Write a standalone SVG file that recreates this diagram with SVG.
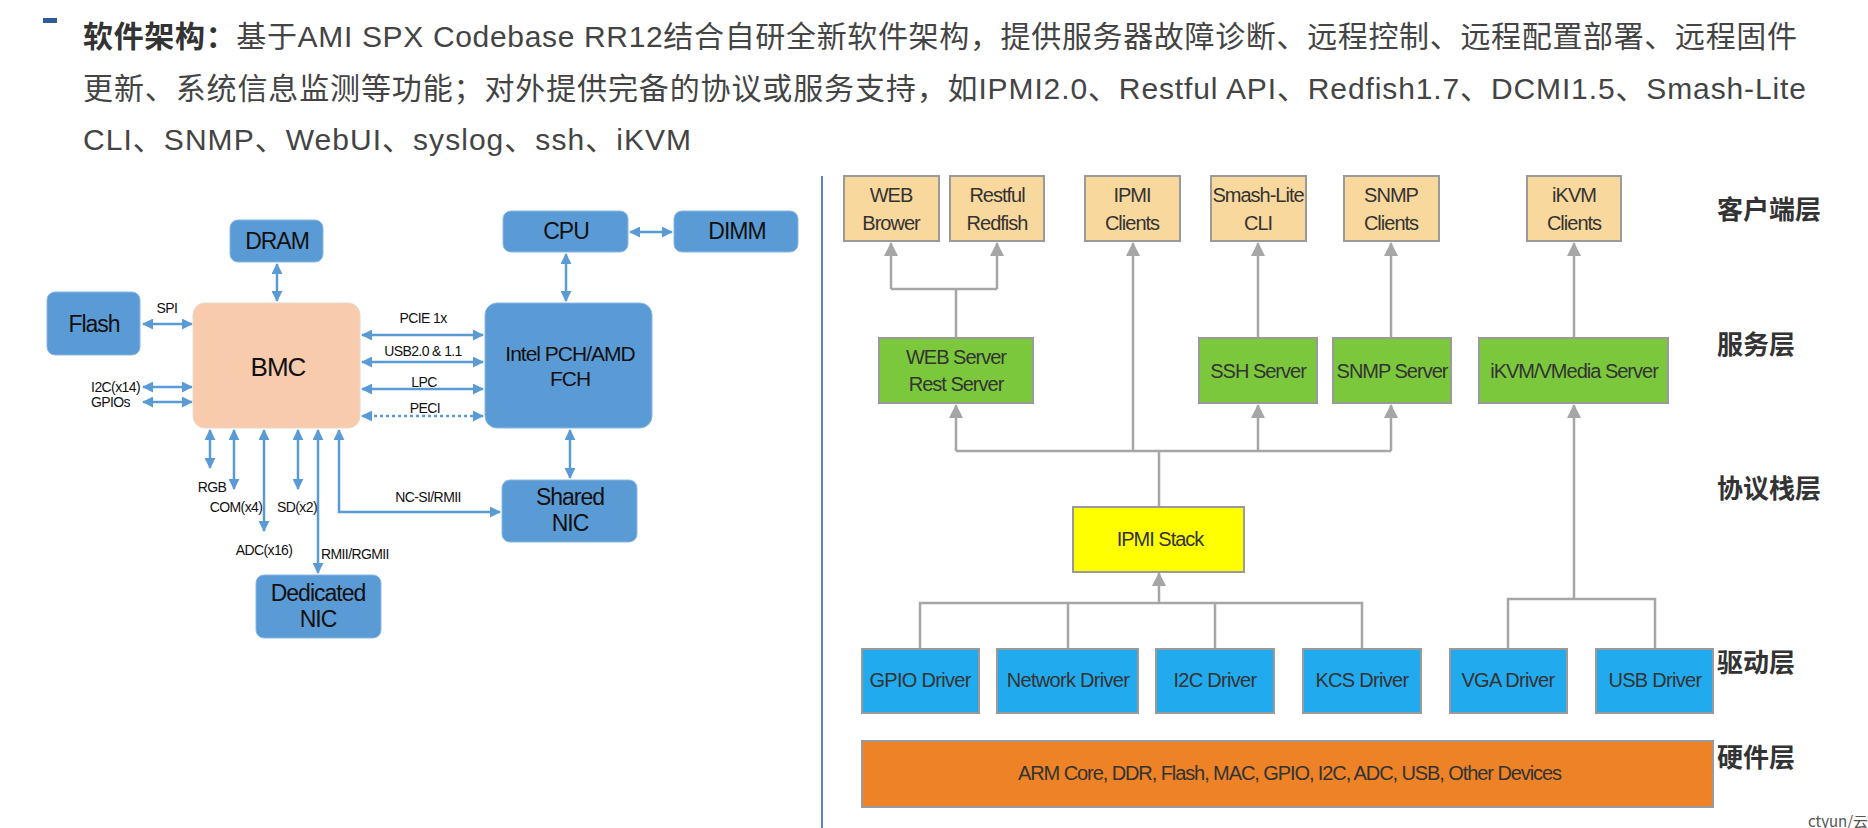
<svg xmlns="http://www.w3.org/2000/svg" width="1868" height="828" viewBox="0 0 1868 828">
<defs>
<style>
.t{font-family:"Liberation Sans","Noto Sans CJK SC",sans-serif;font-size:30px;fill:#444;dominant-baseline:central}
.tb{font-weight:bold;fill:#333}
.lbox{fill:#5b9bd5;stroke:#8ab8e6;stroke-width:1}
.bmc{fill:#f8cbad;stroke:#e8d8cc;stroke-width:1}
.lt{font-family:"Liberation Sans",Arial,sans-serif;font-size:23px;fill:#111;text-anchor:middle;dominant-baseline:central;letter-spacing:-1px}
.sm{font-family:"Liberation Sans",Arial,sans-serif;font-size:14px;fill:#111;dominant-baseline:central;letter-spacing:-0.6px}
.bl{fill:none;stroke:#5b9bd5;stroke-width:2.5;marker-start:url(#ba);marker-end:url(#ba)}
.gl{fill:none;stroke:#a6a6a6;stroke-width:2.5}
.ga{marker-end:url(#ga)}
.cli{fill:#f8d89c;stroke:#9a9a9a;stroke-width:2}
.srv{fill:#7cc83c;stroke:#9a9a9a;stroke-width:2}
.stk{fill:#ffff00;stroke:#9a9a9a;stroke-width:2}
.drv{fill:#22aaee;stroke:#9a9a9a;stroke-width:2}
.hw{fill:#ee8226;stroke:#9a9a9a;stroke-width:2}
.rt{font-family:"Liberation Sans",Arial,sans-serif;font-size:20px;fill:#333;text-anchor:middle;dominant-baseline:central;letter-spacing:-1px}
.lay{font-family:"Noto Sans CJK SC",sans-serif;font-size:26px;font-weight:bold;fill:#333;dominant-baseline:central}
</style>
<marker id="ba" viewBox="0 0 12 12" refX="11" refY="6" markerWidth="11" markerHeight="11" markerUnits="userSpaceOnUse" orient="auto-start-reverse">
<path d="M0,0 L12,6 L0,12 z" fill="#5b9bd5"/>
</marker>
<marker id="ga" viewBox="0 0 14 14" refX="13" refY="7" markerWidth="14" markerHeight="14" markerUnits="userSpaceOnUse" orient="auto">
<path d="M0,0 L14,7 L0,14 z" fill="#a6a6a6"/>
</marker>
</defs>
<rect width="1868" height="828" fill="#ffffff"/>

<g id="header">
<rect x="43" y="18" width="14" height="5" fill="#2d5c9a"/>
<text class="t" x="83" y="36" textLength="1714"><tspan class="tb">软件架构：</tspan>基于AMI SPX Codebase RR12结合自研全新软件架构，提供服务器故障诊断、远程控制、远程配置部署、远程固件</text>
<text class="t" x="83" y="88" textLength="1723">更新、系统信息监测等功能；对外提供完备的协议或服务支持，如IPMI2.0、Restful API、Redfish1.7、DCMI1.5、Smash-Lite</text>
<text class="t" x="83" y="139" textLength="608">CLI、SNMP、WebUI、syslog、ssh、iKVM</text>
</g>

<line id="divider" x1="822" y1="176" x2="822" y2="828" stroke="#5b84c4" stroke-width="2"/>

<g id="left-connectors">
<line class="bl" x1="277" y1="264" x2="277" y2="301"/>
<line class="bl" x1="143" y1="324" x2="192" y2="324"/>
<line class="bl" x1="143" y1="387" x2="192" y2="387"/>
<line class="bl" x1="143" y1="402" x2="192" y2="402"/>
<line class="bl" x1="362" y1="335" x2="483" y2="335"/>
<line class="bl" x1="362" y1="362" x2="483" y2="362"/>
<line class="bl" x1="362" y1="389" x2="483" y2="389"/>
<line class="bl" x1="362" y1="416" x2="483" y2="416" stroke-dasharray="3 3"/>
<line class="bl" x1="630" y1="232" x2="672" y2="232"/>
<line class="bl" x1="566" y1="254" x2="566" y2="301"/>
<line class="bl" x1="570" y1="430" x2="570" y2="478"/>
<line class="bl" x1="210" y1="430" x2="210" y2="468"/>
<line class="bl" x1="234" y1="430" x2="234" y2="489"/>
<line class="bl" x1="264" y1="430" x2="264" y2="531"/>
<line class="bl" x1="298" y1="430" x2="298" y2="489"/>
<line class="bl" x1="318" y1="430" x2="318" y2="573"/>
<path class="bl" d="M339,430 L339,512 L500,512"/>
<text class="sm" x="167" y="308" text-anchor="middle">SPI</text>
<text class="sm" x="140" y="387" text-anchor="end">I2C(x14)</text>
<text class="sm" x="130" y="402" text-anchor="end">GPIOs</text>
<text class="sm" x="423" y="318" text-anchor="middle">PCIE 1x</text>
<text class="sm" x="423" y="351" text-anchor="middle">USB2.0 &amp; 1.1</text>
<text class="sm" x="424" y="382" text-anchor="middle">LPC</text>
<text class="sm" x="425" y="408" text-anchor="middle">PECI</text>
<text class="sm" x="212" y="487" text-anchor="middle">RGB</text>
<text class="sm" x="236" y="507" text-anchor="middle">COM(x4)</text>
<text class="sm" x="297" y="507" text-anchor="middle">SD(x2)</text>
<text class="sm" x="264" y="550" text-anchor="middle">ADC(x16)</text>
<text class="sm" x="321" y="554">RMII/RGMII</text>
<text class="sm" x="428" y="497" text-anchor="middle">NC-SI/RMII</text>
</g>

<g id="DRAM"><rect class="lbox" x="230" y="220" width="93" height="42" rx="8"/><text class="lt" x="277" y="241">DRAM</text></g>
<g id="Flash"><rect class="lbox" x="47" y="292" width="93" height="63" rx="8"/><text class="lt" x="94" y="324">Flash</text></g>
<g id="BMC"><rect class="bmc" x="193" y="303" width="167" height="125" rx="12"/><text class="lt" x="278" y="367" style="font-size:26px">BMC</text></g>
<g id="CPU"><rect class="lbox" x="503" y="211" width="125" height="41" rx="8"/><text class="lt" x="566" y="231">CPU</text></g>
<g id="DIMM"><rect class="lbox" x="674" y="211" width="124" height="41" rx="8"/><text class="lt" x="737" y="231">DIMM</text></g>
<g id="PCH"><rect class="lbox" x="485" y="303" width="167" height="125" rx="12"/><text class="lt" x="570" y="353" style="font-size:21px">Intel PCH/AMD</text><text class="lt" x="570" y="378" style="font-size:21px">FCH</text></g>
<g id="SharedNIC"><rect class="lbox" x="502" y="480" width="135" height="62" rx="8"/><text class="lt" x="570" y="497">Shared</text><text class="lt" x="570" y="523">NIC</text></g>
<g id="DedicatedNIC"><rect class="lbox" x="256" y="575" width="125" height="63" rx="8"/><text class="lt" x="318" y="593">Dedicated</text><text class="lt" x="318" y="619">NIC</text></g>

<g id="right-connectors">
<path class="gl" d="M956,338 V289 M891,289 H997"/>
<path class="gl ga" d="M891,289 V243"/>
<path class="gl ga" d="M997,289 V243"/>
<path class="gl ga" d="M1133,451 V243"/>
<path class="gl ga" d="M1258,338 V243"/>
<path class="gl ga" d="M1391,338 V243"/>
<path class="gl ga" d="M1574,338 V243"/>
<path class="gl" d="M956,451 H1391 M1159,507 V451"/>
<path class="gl ga" d="M956,451 V405"/>
<path class="gl ga" d="M1258,451 V405"/>
<path class="gl ga" d="M1391,451 V405"/>
<path class="gl ga" d="M1574,599 V405"/>
<path class="gl" d="M1508,649 V599 H1655 V649"/>
<path class="gl" d="M920,649 V603 H1362 V649 M1068,649 V603 M1215,649 V603"/>
<path class="gl ga" d="M1159,603 V573"/>
</g>

<g id="WEBBrower"><rect class="cli" x="844" y="176" width="95" height="65"/><text class="rt" x="891" y="195">WEB</text><text class="rt" x="891" y="223">Brower</text></g>
<g id="RestfulRedfish"><rect class="cli" x="950" y="176" width="94" height="65"/><text class="rt" x="997" y="195">Restful</text><text class="rt" x="997" y="223">Redfish</text></g>
<g id="IPMIClients"><rect class="cli" x="1085" y="176" width="95" height="65"/><text class="rt" x="1132" y="195">IPMI</text><text class="rt" x="1132" y="223">Clients</text></g>
<g id="SmashCLI"><rect class="cli" x="1211" y="176" width="95" height="65"/><text class="rt" x="1258" y="195">Smash-Lite</text><text class="rt" x="1258" y="223">CLI</text></g>
<g id="SNMPClients"><rect class="cli" x="1344" y="176" width="95" height="65"/><text class="rt" x="1391" y="195">SNMP</text><text class="rt" x="1391" y="223">Clients</text></g>
<g id="iKVMClients"><rect class="cli" x="1527" y="176" width="94" height="65"/><text class="rt" x="1574" y="195">iKVM</text><text class="rt" x="1574" y="223">Clients</text></g>

<g id="WEBServer"><rect class="srv" x="879" y="338" width="154" height="65"/><text class="rt" x="956" y="357">WEB Server</text><text class="rt" x="956" y="384">Rest Server</text></g>
<g id="SSHServer"><rect class="srv" x="1199" y="338" width="118" height="65"/><text class="rt" x="1258" y="371">SSH Server</text></g>
<g id="SNMPServer"><rect class="srv" x="1333" y="338" width="118" height="65"/><text class="rt" x="1392" y="371">SNMP Server</text></g>
<g id="iKVMServer"><rect class="srv" x="1479" y="338" width="189" height="65"/><text class="rt" x="1574" y="371">iKVM/VMedia Server</text></g>

<g id="IPMIStack"><rect class="stk" x="1073" y="507" width="171" height="65"/><text class="rt" x="1160" y="539">IPMI Stack</text></g>

<g id="GPIODriver"><rect class="drv" x="862" y="649" width="117" height="64"/><text class="rt" x="920" y="680" style="letter-spacing:-0.7px">GPIO Driver</text></g>
<g id="NetworkDriver"><rect class="drv" x="997" y="649" width="141" height="64"/><text class="rt" x="1068" y="680" style="letter-spacing:-0.7px">Network Driver</text></g>
<g id="I2CDriver"><rect class="drv" x="1156" y="649" width="118" height="64"/><text class="rt" x="1215" y="680" style="letter-spacing:-0.7px">I2C Driver</text></g>
<g id="KCSDriver"><rect class="drv" x="1303" y="649" width="118" height="64"/><text class="rt" x="1362" y="680" style="letter-spacing:-0.7px">KCS Driver</text></g>
<g id="VGADriver"><rect class="drv" x="1450" y="649" width="117" height="64"/><text class="rt" x="1508" y="680" style="letter-spacing:-0.7px">VGA Driver</text></g>
<g id="USBDriver"><rect class="drv" x="1596" y="649" width="117" height="64"/><text class="rt" x="1655" y="680" style="letter-spacing:-0.7px">USB Driver</text></g>

<g id="Hardware"><rect class="hw" x="862" y="741" width="851" height="66"/><text class="rt" x="1290" y="773" textLength="544" style="letter-spacing:0">ARM Core, DDR, Flash, MAC, GPIO, I2C, ADC, USB, Other Devices</text></g>

<g id="layers">
<text class="lay" x="1717" y="207">客户端层</text>
<text class="lay" x="1717" y="342">服务层</text>
<text class="lay" x="1717" y="486">协议栈层</text>
<text class="lay" x="1717" y="660">驱动层</text>
<text class="lay" x="1717" y="755">硬件层</text>
</g>

<text x="1808" y="820" font-family="Noto Sans CJK SC,sans-serif" font-size="15" fill="#555" dominant-baseline="central">ctyun/云</text>
</svg>
